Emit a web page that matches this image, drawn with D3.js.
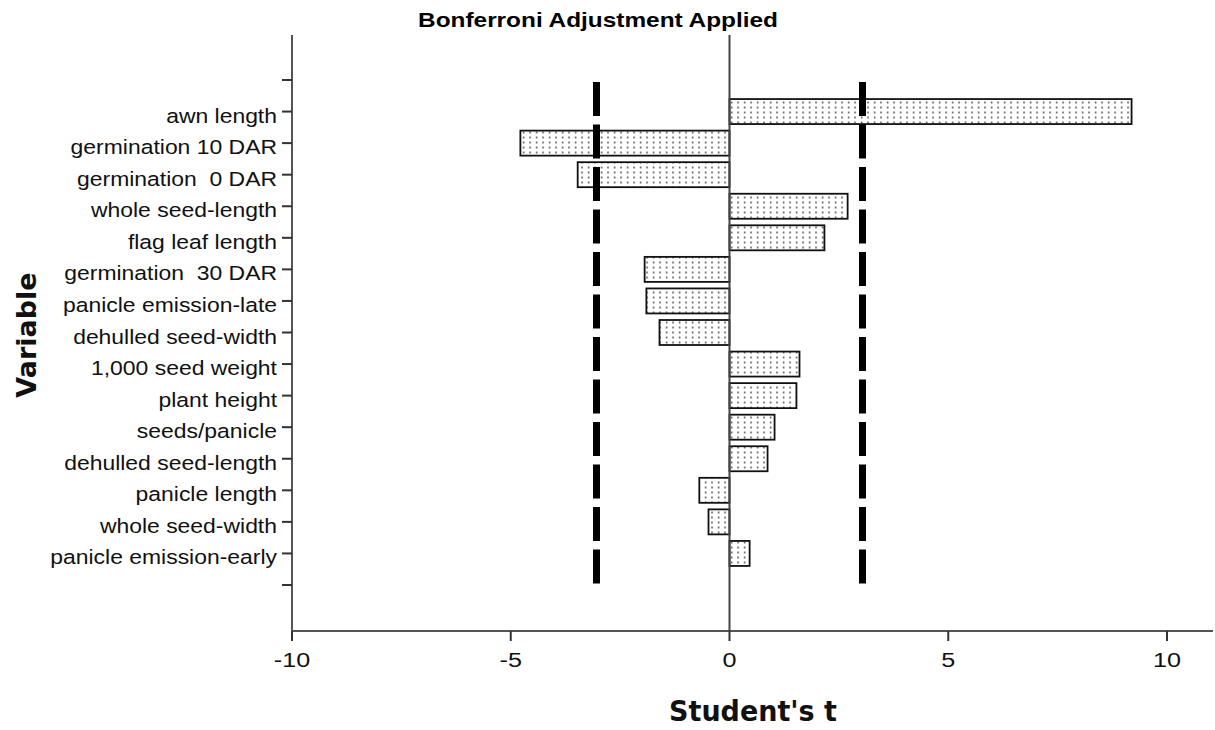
<!DOCTYPE html>
<html><head><meta charset="utf-8">
<script src="https://cdn.jsdelivr.net/npm/d3@7"></script>
<style>body{margin:0;background:#fff}</style>
</head><body>
<script>
const categories = ["awn length","germination 10 DAR","germination  0 DAR","whole seed-length","flag leaf length","germination  30 DAR","panicle emission-late","dehulled seed-width","1,000 seed weight","plant height","seeds/panicle","dehulled seed-length","panicle length","whole seed-width","panicle emission-early"];
const tValues = [9.19,-4.78,-3.47,2.70,2.17,-1.94,-1.90,-1.60,1.60,1.53,1.03,0.87,-0.69,-0.48,0.46];
const xTicks = [-10,-5,0,5,10];
const bonferroni = [-3.04, 3.04];

const W=1215,H=730;
const svg=d3.select("body").append("svg").attr("width",W).attr("height",H).style("font-family","'Liberation Sans',Arial,sans-serif");
const defs=svg.append("defs");
const pat=defs.append("pattern").attr("id","dots").attr("patternUnits","userSpaceOnUse").attr("width",6.5).attr("height",5).attr("x",0).attr("y",0);
pat.append("rect").attr("width",6.5).attr("height",5).attr("fill","#fff");
pat.append("rect").attr("x",3).attr("y",1.5).attr("width",1.2).attr("height",2).attr("fill","#333");

const pLeft=292,pRight=1213,pTop=35,pBottom=631;
const SX=1.13, FS=20.3;
const x=d3.scaleLinear().domain([-10,11]).range([292,292+21*43.75]);
const domainY=["__top",...categories,"__bot"];
const y=d3.scalePoint().domain(domainY).range([80,585]);
const bh=25;

// axes lines
svg.append("line").attr("x1",pLeft).attr("x2",pLeft).attr("y1",pTop).attr("y2",pBottom).attr("stroke","#555").attr("stroke-width",2);
svg.append("line").attr("x1",pLeft).attr("x2",pRight).attr("y1",pBottom).attr("y2",pBottom).attr("stroke","#555").attr("stroke-width",2);

// y ticks
const yg=svg.append("g");
domainY.forEach(d=>{
  yg.append("line").attr("x1",pLeft-10).attr("x2",pLeft).attr("y1",y(d)).attr("y2",y(d)).attr("stroke","#333").attr("stroke-width",2);
  if(!d.startsWith("__")) yg.append("text").attr("transform",`translate(${pLeft-15},${y(d)+11}) scale(${SX},1)`).attr("text-anchor","end").attr("font-size",FS).attr("fill","#111").style("white-space","pre").text(d);
});

// x ticks
const xg=svg.append("g");
xTicks.forEach(t=>{
  xg.append("line").attr("x1",x(t)).attr("x2",x(t)).attr("y1",pBottom).attr("y2",pBottom+10).attr("stroke","#333").attr("stroke-width",2);
  xg.append("text").attr("transform",`translate(${x(t)},${pBottom+36}) scale(1.2,1)`).attr("text-anchor","middle").attr("font-size",21).attr("fill","#111").text(t);
});

// bars
svg.append("g").selectAll("rect").data(categories).join("rect")
  .attr("x",(d,i)=>Math.min(x(0),x(tValues[i])))
  .attr("width",(d,i)=>Math.abs(x(tValues[i])-x(0)))
  .attr("y",d=>y(d)-bh/2).attr("height",bh)
  .attr("fill","url(#dots)").attr("stroke","#111").attr("stroke-width",1.8);

// zero line
svg.append("line").attr("x1",x(0)).attr("x2",x(0)).attr("y1",pTop).attr("y2",pBottom).attr("stroke","#444").attr("stroke-width",2);

// bonferroni lines
bonferroni.forEach(b=>{
  svg.append("line").attr("x1",x(b)).attr("x2",x(b)).attr("y1",82).attr("y2",585).attr("stroke","#000").attr("stroke-width",7).attr("stroke-dasharray","34,8.5");
});

// titles
svg.append("text").attr("transform","translate(598,27) scale(1.22,1)").attr("text-anchor","middle").attr("font-size",20).attr("font-weight","bold").attr("fill","#000").text("Bonferroni Adjustment Applied");
svg.append("text").attr("transform","translate(753,721) scale(0.93,1)").attr("text-anchor","middle").attr("font-size",29).attr("font-weight","bold").attr("font-family","'DejaVu Sans',Verdana,sans-serif").attr("fill","#111").text("Student's t");
svg.append("text").attr("transform","translate(36,335) rotate(-90)").attr("text-anchor","middle").attr("font-size",27).attr("font-weight","bold").attr("font-family","'DejaVu Sans',Verdana,sans-serif").attr("fill","#111").text("Variable");
</script>
</body></html>
